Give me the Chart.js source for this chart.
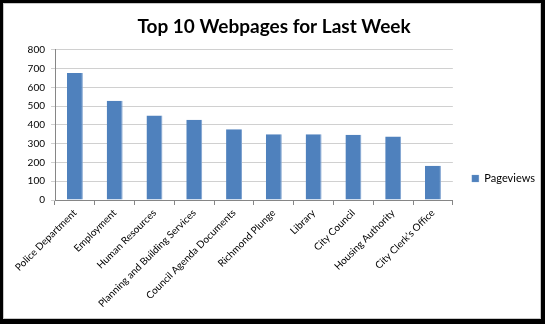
<!DOCTYPE html>
<html><head><meta charset="utf-8">
<script src="https://cdn.jsdelivr.net/npm/chart.js@4/dist/chart.umd.min.js"></script>
<style>
html,body{margin:0;padding:0;background:#fff;}
#frame{position:relative;width:545px;height:324px;background:#000;overflow:hidden;}
#inner{position:absolute;left:3px;top:3px;width:538px;height:316px;background:#fff;box-sizing:border-box;border:1px solid #c8c8c8;}
#c{position:absolute;left:3px;top:3px;}
</style></head><body>
<div id="frame"><div id="inner"></div><canvas id="c" width="538" height="316"></canvas></div>
<script>
const categories = ['Police Department','Employment','Human Resources','Planning and Building Services','Council Agenda Documents','Richmond Plunge','Library','City Council','Housing Authority','City Clerk\u2019s Office'];
const pageviews = [676, 528, 450, 428, 377, 350, 350, 348, 338, 183];
const seriesName = 'Pageviews';
const titleText = 'Top 10 Webpages for Last Week';
const yMin = 0, yMax = 800, yStep = 100;

const FONT = 'Lato, "Open Sans", sans-serif';
const legendShift = {
  id: 'legendShift',
  afterLayout(chart) {
    const l = chart.legend;
    if (!l) return;
    const d = 3;
    l.top += d; l.bottom += d;
  }
};

new Chart(document.getElementById('c'), {
  type: 'bar',
  data: {
    labels: categories,
    datasets: [{
      label: seriesName,
      data: pageviews,
      backgroundColor: '#4f81bd',
      borderColor: '#7ea2d0',
      borderWidth: {top: 0, left: 0, right: 1, bottom: 0},
      barPercentage: 0.4,
      categoryPercentage: 1.0
    }]
  },
  options: {
    responsive: false,
    animation: false,
    layout: {padding: {left: 0, right: -4, top: 0, bottom: 0}},
    plugins: {
      title: {
        display: true, text: titleText, color: '#000',
        font: {family: FONT, size: 19, weight: 'bold'},
        padding: {top: 12, bottom: 12}
      },
      legend: {
        display: true, position: 'right', align: 'end', fullSize: false,
        labels: {
          color: '#000', boxWidth: 7, boxHeight: 7, padding: 19,
          font: {family: FONT, size: 11}
        }
      },
      tooltip: {enabled: false}
    },
    scales: {
      x: {
        grid: {display: true, drawOnChartArea: false, drawTicks: true, tickLength: 5, color: '#868686', offset: true},
        border: {display: true, color: '#868686'},
        ticks: {color: '#000', font: {family: FONT, size: 10}, minRotation: 45, maxRotation: 45, autoSkip: false, padding: 2},
        afterFit(s) { s.height = 119; }
      },
      y: {
        min: yMin, max: yMax,
        grid: {color: '#d0d0d0', tickLength: 4},
        border: {display: true, color: '#868686'},
        ticks: {stepSize: yStep, color: '#000', font: {family: FONT, size: 10}, padding: 6},
        afterFit(s) { s.width = 52; }
      }
    }
  },
  plugins: [legendShift]
});
</script>
</body></html>
